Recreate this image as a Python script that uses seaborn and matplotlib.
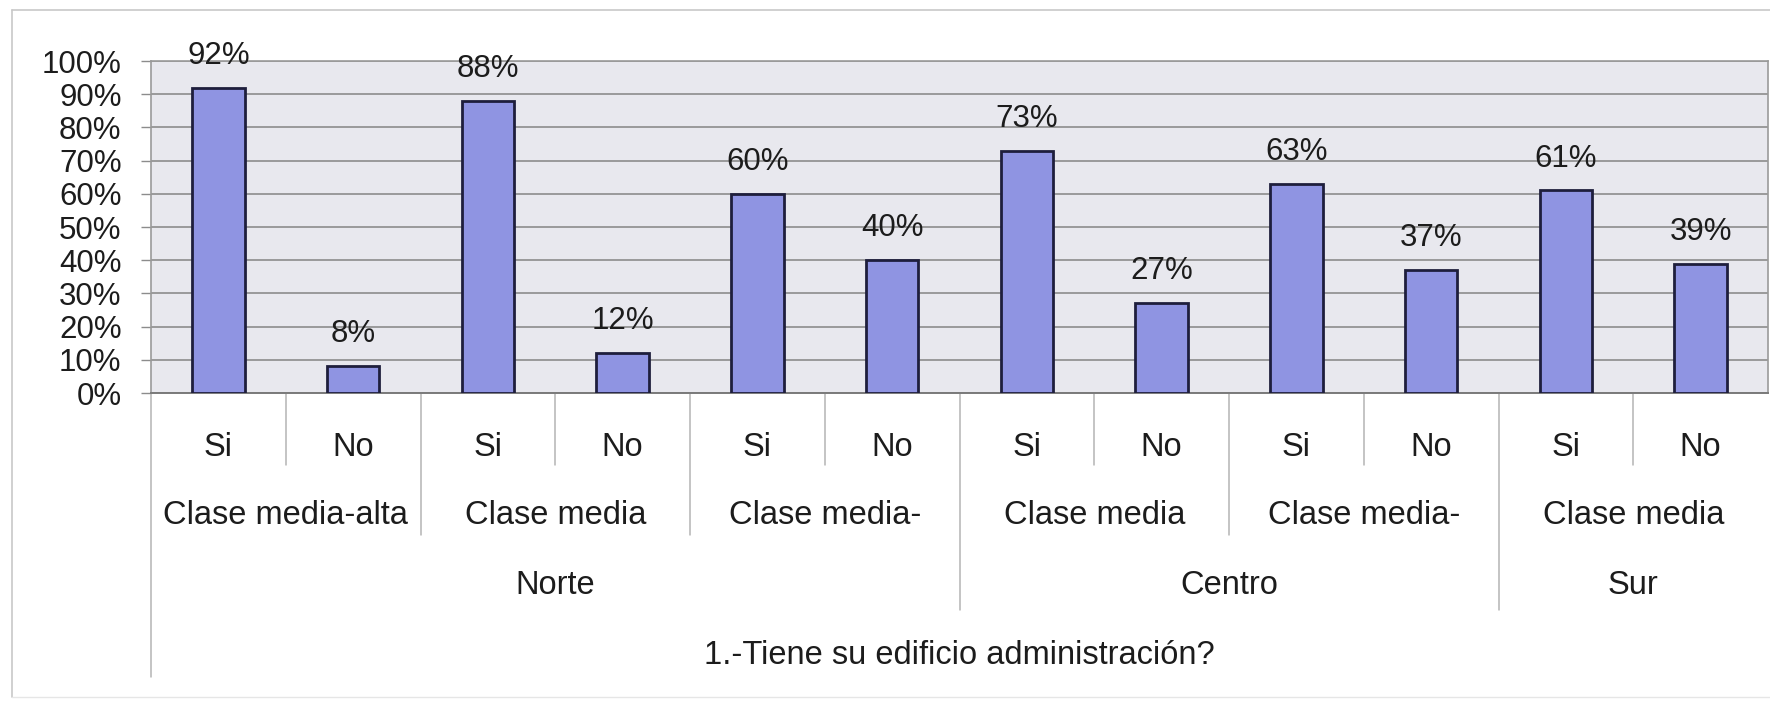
import matplotlib
matplotlib.use("Agg")
import matplotlib.pyplot as plt
import matplotlib.transforms as mtransforms
from matplotlib.lines import Line2D
import seaborn as sns
import pandas as pd

# ---- data -------------------------------------------------------------
regiones = ["Norte", "Norte", "Norte", "Centro", "Centro", "Sur"]
clases = ["Clase media-alta", "Clase media", "Clase media-",
          "Clase media", "Clase media-", "Clase media"]
respuestas = ["Si", "No"]
si_pct = [92, 88, 60, 73, 63, 61]
no_pct = [8, 12, 40, 27, 37, 39]
pregunta = "1.-Tiene su edificio administración?"
y_ticks = [0, 10, 20, 30, 40, 50, 60, 70, 80, 90, 100]

# ---- tidy table -------------------------------------------------------
rows = []
for g, (reg, cla) in enumerate(zip(regiones, clases)):
    for resp, pct in zip(respuestas, (si_pct[g], no_pct[g])):
        rows.append({"clave": f"{g}-{resp}", "region": reg, "clase": cla,
                     "respuesta": resp, "pct": pct})
df = pd.DataFrame(rows)

# ---- style ------------------------------------------------------------
sns.set_style("white")
plt.rcParams["font.family"] = ["Liberation Sans", "DejaVu Sans"]
text_color = "#1C1C1C"
bar_color = "#8F94E2"
edge_color = "#1E1E3C"
grid_color = "#8C8C8C"
sep_color = "#B4B4B4"

W, H = 1770, 701
fig = plt.figure(figsize=(W / 100, H / 100), dpi=100)
ax_left, ax_right, ax_top, ax_bot = 151, 1768, 61, 393
ax = fig.add_axes([ax_left / W, 1 - ax_bot / H,
                   (ax_right - ax_left) / W, (ax_bot - ax_top) / H])
ax_h = ax_bot - ax_top

sns.barplot(data=df, x="clave", y="pct", color=bar_color, saturation=1,
            width=0.39, edgecolor=edge_color, linewidth=2.0, ax=ax,
            errorbar=None, zorder=3)

ax.set_xlim(-0.5, len(df) - 0.5)
ax.set_ylim(0, 100)
ax.set_facecolor("#E8E8EE")
ax.set_yticks(y_ticks)
ax.set_yticklabels([f"{t}%" for t in y_ticks], fontsize=22.5, color=text_color)
ax.tick_params(axis="y", length=7.2, width=1.0, color=grid_color, pad=14, left=True)
ax.tick_params(axis="x", length=0, labelbottom=False)
ax.set_xlabel("")
ax.set_ylabel("")
ax.yaxis.grid(True, color=grid_color, linewidth=1.2, zorder=0)
ax.set_axisbelow(True)
for side in ("left", "top", "right"):
    ax.spines[side].set_color("#9A9A9A")
    ax.spines[side].set_linewidth(1.2)
ax.spines["bottom"].set_color("#7A7A7A")
ax.spines["bottom"].set_linewidth(1.4)

# value labels above bars
for patch, pct in zip(ax.patches, df["pct"]):
    cx = patch.get_x() + patch.get_width() / 2
    ax.annotate(f"{pct}%", (cx, pct), xytext=(0, 23), textcoords="offset points",
                ha="center", va="center", fontsize=22.5, color=text_color,
                annotation_clip=False, zorder=5)

# ---- hierarchical category axis --------------------------------------
trans = mtransforms.blended_transform_factory(ax.transData, ax.transAxes)

def below(px):
    return -px / ax_h

row_resp, row_clase, row_region, row_title = below(54), below(122), below(193), below(262)
end_resp, end_clase, end_region, end_left = below(72), below(142), below(217), below(284)

def vline(x, y_end):
    ax.add_line(Line2D([x, x], [0, y_end], transform=trans, color=sep_color,
                       linewidth=1.1, clip_on=False))

n = len(df)
for i, r in df.iterrows():
    ax.text(i, row_resp, r["respuesta"], transform=trans, ha="center", va="center",
            fontsize=23.5, color=text_color)

# class groups (pairs of bars)
for g, cla in enumerate(clases):
    ax.text(2 * g + 0.5, row_clase, cla, transform=trans, ha="center", va="center",
            fontsize=23.5, color=text_color)

# region groups
reg_spans = []
start = 0
for g in range(1, len(regiones) + 1):
    if g == len(regiones) or regiones[g] != regiones[start]:
        reg_spans.append((regiones[start], 2 * start, 2 * g))
        start = g
for reg, a, b in reg_spans:
    ax.text((a + b - 1) / 2, row_region, reg, transform=trans, ha="center",
            va="center", fontsize=23.5, color=text_color)

ax.text((n - 1) / 2, row_title, pregunta, transform=trans, ha="center",
        va="center", fontsize=23.5, color=text_color)

region_edges = {b for _, _, b in reg_spans}
for k in range(1, n):
    x = k - 0.5
    if k in region_edges:
        vline(x, end_region)
    elif k % 2 == 0:
        vline(x, end_clase)
    else:
        vline(x, end_resp)
vline(-0.5, end_left)

# outer chart frame
frame_color = "#C8C8C8"
fig.add_artist(Line2D([12 / W, 12 / W], [1 - 10 / H, 1 - 697 / H],
                      transform=fig.transFigure, color=frame_color, linewidth=1.2))
fig.add_artist(Line2D([12 / W, 1.0], [1 - 10 / H, 1 - 10 / H],
                      transform=fig.transFigure, color=frame_color, linewidth=1.2))
fig.add_artist(Line2D([12 / W, 1.0], [1 - 697 / H, 1 - 697 / H],
                      transform=fig.transFigure, color="#E6E6E6", linewidth=1.0))

fig.savefig("out.png", dpi=100, facecolor="white")
